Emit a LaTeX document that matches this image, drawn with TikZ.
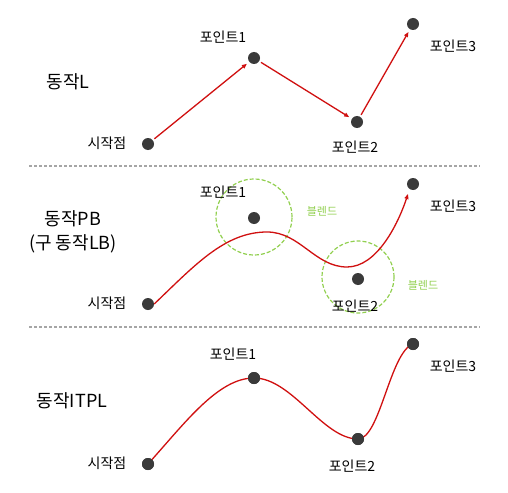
\documentclass[tikz,border=0pt]{standalone}
\usepackage{fontspec}
\setmainfont{Noto Sans CJK KR}
\usetikzlibrary{arrows.meta}
\definecolor{lred}{HTML}{D01010}
\definecolor{dotc}{HTML}{3A3A3A}
\definecolor{blend}{HTML}{92D050}
\definecolor{sep}{HTML}{A6A6A6}
\tikzset{
  pt/.style={circle,fill=dotc,inner sep=0pt,minimum size=12pt},
  lbl/.style={font=\fontsize{14}{16}\selectfont,text=black,inner sep=0pt},
  ttl/.style={font=\fontsize{18}{24}\selectfont,text=black,inner sep=0pt,align=center},
  blbl/.style={font=\fontsize{11}{13}\selectfont,text=blend,inner sep=0pt},
  path/.style={draw=lred,line width=1.3pt},
  arr/.style={path,-{Triangle[length=5pt,width=4pt]}},
  sepline/.style={draw=sep,line width=1.2pt,dash pattern=on 3pt off 2pt},
  blendc/.style={draw=blend,line width=1.2pt,dash pattern=on 4pt off 2pt,circle,fill=none},
}
\begin{document}
\begin{tikzpicture}[x=1pt,y=-1pt]
\useasboundingbox[fill=white] (0,0) rectangle (508,492);
% separators
\coordinate (s1a) at (29,166); \coordinate (s1b) at (480,166);
\coordinate (s2a) at (29,327); \coordinate (s2b) at (480,327);
\draw[sepline] (s1a) -- (s1b);
\draw[sepline] (s2a) -- (s2b);

% ---------- panel 1 ----------
\node[ttl] (t1) at (68,82) {동작L};
\node[pt] (a0) at (148,144) {};
\node[pt] (a1) at (254,58) {};
\node[pt] (a2) at (357,122) {};
\node[pt] (a3) at (413,24) {};
\node[lbl] (la0) at (107,143) {시작점};
\node[lbl] (la1) at (223,37) {포인트1};
\node[lbl] (la2) at (355,147) {포인트2};
\node[lbl] (la3) at (453,46) {포인트3};
\draw[arr,shorten >=3pt,shorten <=2pt] (a0) -- (a1);
\draw[arr,shorten >=3pt,shorten <=2pt] (a1) -- (a2);
\draw[arr,shorten >=3pt,shorten <=2pt] (a2) -- (a3);

% ---------- panel 2 ----------
\node[ttl] (t2) at (73,232) {동작PB\\(구 동작LB)};
\node[pt] (b0) at (148,304) {};
\node[pt] (b1) at (254,218) {};
\node[pt] (b2) at (358,279) {};
\node[pt] (b3) at (413,184) {};
\node[blendc,minimum size=76pt] (c1) at (254,217) {};
\node[blendc,minimum size=72pt] (c2) at (358,277) {};
\node[blbl] (bl1) at (322,211) {블렌드};
\node[blbl] (bl2) at (423,285) {블렌드};
\node[lbl] (lb0) at (107,303) {시작점};
\node[lbl] (lb1) at (223,192) {포인트1};
\node[lbl] (lb2) at (355,306) {포인트2};
\node[lbl] (lb3) at (453,206) {포인트3};
\draw[arr] (b0.east) .. controls (195,265) and (225,232) .. (267,232)
  .. controls (300,232) and (315,267) .. (347,267)
  .. controls (377,267) and (398,224) .. (408,194);

% ---------- panel 3 ----------
\node[ttl] (t3) at (72,401) {동작ITPL};
\node[pt] (c0p) at (148,464) {};
\node[pt] (c1p) at (254,378) {};
\node[pt] (c2p) at (358,439) {};
\node[pt] (c3p) at (413,344) {};
\node[lbl] (lc0) at (107,463) {시작점};
\node[lbl] (lc1) at (233,354) {포인트1};
\node[lbl] (lc2) at (352,466) {포인트2};
\node[lbl] (lc3) at (453,366) {포인트3};
\path[path] (c0p.center) .. controls (185,423) and (218,378) .. (c1p.center)
  .. controls (292,378) and (323,439) .. (c2p.center)
  .. controls (380,439) and (390,352) .. (c3p.center);
\node[pt] at (c0p) {};
\node[pt] at (c1p) {};
\node[pt] at (c2p) {};
\node[pt] at (c3p) {};
\end{tikzpicture}
\end{document}
